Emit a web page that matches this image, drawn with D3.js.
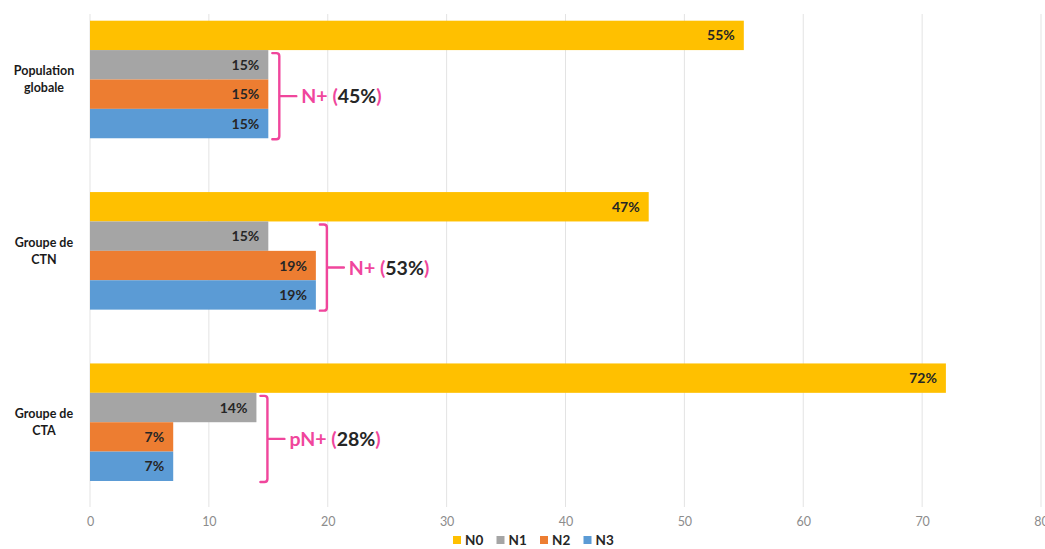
<!DOCTYPE html>
<html>
<head>
<meta charset="utf-8">
<script src="https://cdn.jsdelivr.net/npm/d3@7/dist/d3.min.js"></script>
<style>
  html, body { margin: 0; padding: 0; background: #fff; }
  svg { display: block; font-family: Lato, "Open Sans", sans-serif; }
</style>
</head>
<body>
<svg id="chart" width="1045" height="549"></svg>
<script>
// Groups (top to bottom) and their two-line labels
const groups = ["Population globale", "Groupe de CTN", "Groupe de CTA"];
const groupLabelLines = [["Population", "globale"], ["Groupe de", "CTN"], ["Groupe de", "CTA"]];

// Series
const seriesNames = ["N0", "N1", "N2", "N3"];
const seriesColors = ["#FFC000", "#A5A5A5", "#ED7D31", "#5B9BD5"];
const valuesN0 = [55, 47, 72];
const valuesN1 = [15, 15, 14];
const valuesN2 = [15, 19, 7];
const valuesN3 = [15, 19, 7];

// Bracket annotations for node-positive groups (N1 + N2 + N3)
const bracketPrefix = ["N+", "N+", "pN+"];

// Axis ticks
const xTicks = [0, 10, 20, 30, 40, 50, 60, 70, 80];

const seriesValues = [valuesN0, valuesN1, valuesN2, valuesN3];
const rows = groups.map((g, i) => ({
  group: g,
  values: seriesNames.map((s, j) => ({ series: s, value: seriesValues[j][i], color: seriesColors[j] }))
}));

const svg = d3.select("#chart");

const x = d3.scaleLinear().domain([0, 80]).range([90, 1041]);
const y = d3.scaleBand().domain(groups).range([20.7, 481]).paddingInner(0.314).paddingOuter(0);
const yInner = d3.scaleBand().domain(seriesNames).range([0, y.bandwidth()]).padding(0);

const gridTop = 14, gridBottom = 507;

// Vertical gridlines
svg.append("g").selectAll("line")
  .data(xTicks)
  .join("line")
  .attr("x1", d => x(d)).attr("x2", d => x(d))
  .attr("y1", gridTop).attr("y2", gridBottom)
  .attr("stroke", "#e3e3e3").attr("stroke-width", 1);

// X axis tick labels
const xAxis = d3.axisBottom(x).tickValues(xTicks).tickSize(0).tickPadding(0);
const axisG = svg.append("g").attr("transform", `translate(0, ${gridBottom + 10})`).call(xAxis);
axisG.select(".domain").remove();
axisG.selectAll("text")
  .attr("fill", "#8c8c8c")
  .attr("font-size", 12.5)
  .attr("font-family", "Lato, 'Open Sans', sans-serif");

// Bars
const groupG = svg.append("g").selectAll("g")
  .data(rows)
  .join("g")
  .attr("transform", d => `translate(0, ${y(d.group)})`);

groupG.selectAll("rect")
  .data(d => d.values)
  .join("rect")
  .attr("x", x(0))
  .attr("y", d => yInner(d.series))
  .attr("width", d => x(d.value) - x(0))
  .attr("height", yInner.bandwidth())
  .attr("fill", d => d.color);

// Value labels inside bar ends
groupG.selectAll("text.val")
  .data(d => d.values)
  .join("text")
  .attr("class", "val")
  .attr("x", d => x(d.value) - 9)
  .attr("y", d => yInner(d.series) + yInner.bandwidth() / 2)
  .attr("dy", "0.36em")
  .attr("text-anchor", "end")
  .attr("font-size", 14)
  .attr("font-weight", 700)
  .attr("fill", "#262626")
  .text(d => d.value + "%");

// Group labels
svg.append("g").selectAll("text")
  .data(rows)
  .join("text")
  .attr("text-anchor", "middle")
  .attr("font-size", 12.5)
  .attr("font-weight", 700)
  .attr("fill", "#1a1a1a")
  .each(function (d, i) {
    const cy = y(d.group) + y.bandwidth() / 2;
    const lines = groupLabelLines[i];
    d3.select(this).selectAll("tspan")
      .data(lines)
      .join("tspan")
      .attr("x", 44)
      .attr("y", (l, k) => cy + (k - (lines.length - 1) / 2) * 17)
      .attr("dy", "0.36em")
      .text(l => l);
  });

// Brackets around N1–N3 with totals
const pink = "#F0469C";
rows.forEach((d, i) => {
  const pos = d.values.slice(1);
  const maxVal = d3.max(pos, v => v.value);
  const total = d3.sum(pos, v => v.value);
  const gy = y(d.group);
  const top = gy + yInner("N1") + 3;
  const bottom = gy + yInner("N3") + yInner.bandwidth() + 1;
  const mid = (top + bottom) / 2;
  const xv = x(maxVal) + 11;
  const x0 = x(maxVal) + 4;
  const r = 3;

  const bracket = d3.path();
  bracket.moveTo(x0, top);
  bracket.lineTo(xv - r, top);
  bracket.quadraticCurveTo(xv, top, xv, top + r);
  bracket.lineTo(xv, bottom - r);
  bracket.quadraticCurveTo(xv, bottom, xv - r, bottom);
  bracket.lineTo(x0, bottom);
  bracket.moveTo(xv, mid);
  bracket.lineTo(xv + 17, mid);

  svg.append("path")
    .attr("d", bracket.toString())
    .attr("fill", "none")
    .attr("stroke", pink)
    .attr("stroke-width", 2.4)
    .attr("stroke-linecap", "round");

  const t = svg.append("text")
    .attr("x", xv + 22)
    .attr("y", mid)
    .attr("dy", "0.36em")
    .attr("font-size", 19.5)
    .attr("font-weight", 700)
    .attr("fill", pink);
  t.append("tspan").text(bracketPrefix[i] + " (");
  t.append("tspan").attr("fill", "#262626").text(total + "%");
  t.append("tspan").text(")");
});

// Legend
const legend = svg.append("g").attr("transform", "translate(453, 540)");
const legendItems = legend.selectAll("g")
  .data(seriesNames)
  .join("g")
  .attr("transform", (d, i) => `translate(${i * 43.5}, 0)`);
legendItems.append("rect")
  .attr("x", 0).attr("y", -4)
  .attr("width", 8).attr("height", 8)
  .attr("fill", (d, i) => seriesColors[i]);
legendItems.append("text")
  .attr("x", 12).attr("y", 0)
  .attr("dy", "0.36em")
  .attr("font-size", 13.5)
  .attr("font-weight", 700)
  .attr("fill", "#262626")
  .text(d => d);
</script>
</body>
</html>
